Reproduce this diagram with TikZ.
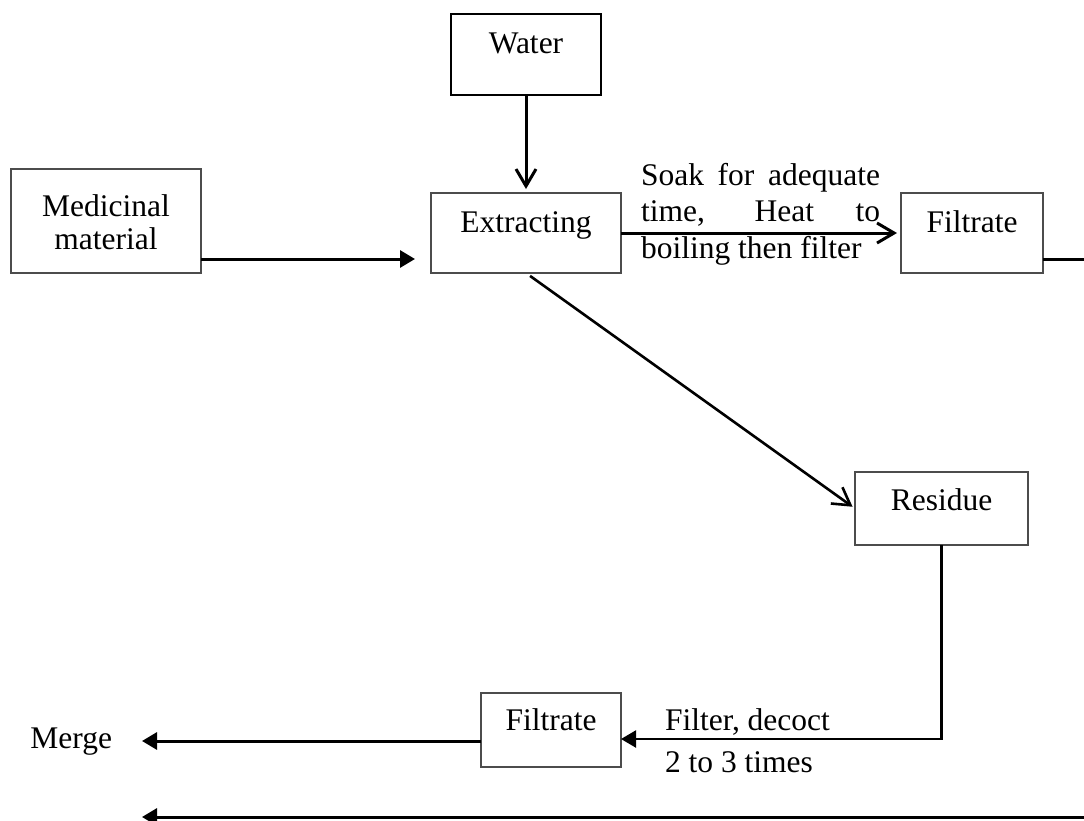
\documentclass[tikz,border=0pt]{standalone}
\usepackage{fontspec}
\setmainfont{Liberation Serif}
\usetikzlibrary{arrows.meta,calc}
\begin{document}
\begin{tikzpicture}[x=0.5pt,y=-0.5pt,
  every node/.style={font=\fontsize{15.75}{18.25}\selectfont},
  box/.style={draw=black!70, line width=0.7pt, inner sep=0pt, outer sep=0pt, anchor=north west, text height=19.5pt, text depth=20.5pt},
  conn/.style={line width=1.5pt},
  openarr/.style={conn, -{Straight Barb[length=8.5pt,width=10pt]}},
  fillarr/.style={conn, -{Triangle[length=7.5pt,width=8.5pt]}},
  txt/.style={inner sep=0pt, outer sep=0pt, anchor=base west}
]
\useasboundingbox (0,0) rectangle (1084,821);

\node[box, draw=black, line width=1pt, minimum width=75pt, text height=19.5pt, text depth=21pt] (water) at (451,14) {Water};
\node[box, minimum width=95pt, text height=23.5pt, text depth=28.5pt] (med) at (11,169)
  {\fontsize{15.75}{16.5}\selectfont\begin{tabular}[t]{@{}c@{}}Medicinal\\material\end{tabular}};
\node[box, minimum width=95pt] (ext) at (431,193) {Extracting};
\node[box, minimum width=71pt] (filt) at (901,193) {Filtrate};
\node[box, minimum width=86.5pt, text height=19pt, text depth=17.5pt] (res) at (855,472) {Residue};
\node[box, minimum width=70pt, text height=18.5pt, text depth=18.5pt] (fb) at (481,693) {Filtrate};
\node[inner sep=0pt, outer sep=0pt, anchor=base east] (merge) at (112,748) {Merge};

\node[txt] (soak) at (641,185) {\begin{tabular}[t]{@{}l@{}}\makebox[119.5pt][s]{Soak for adequate}\\\makebox[119.5pt][s]{time, Heat to}\\boiling then filter\end{tabular}};
\node[txt] (fd) at (665,730) {Filter, decoct};
\node[txt] (times) at (665,772) {2 to 3 times};

\coordinate (m1) at ($(med.south east)+(0,-14)$);
\coordinate (f1) at ($(filt.south east)+(0,-14)$);
\coordinate (fr) at (1084,259);
\coordinate (r1) at ($(fb.east)+(0,9)$);
\coordinate (b1) at ($(fb.west)+(0,11)$);
\coordinate (bR) at (1084,817);
\coordinate (bL) at (142,817);

\draw[openarr, shorten >=2pt] (water) -- (ext);
\draw[fillarr, shorten >=8pt] (m1) -- (m1 -| ext.west);
\draw[openarr, shorten >=2pt] (ext) -- (filt);
\draw[conn] (f1) -- (fr);
\draw[openarr, line width=1.3pt, shorten <=2.5pt, shorten >=1.5pt] (ext.south) -- (res.west);
\draw[fillarr, line width=1.1pt] (res.south) |- (r1);
\draw[fillarr, shorten >=15pt] (b1) -- (b1 -| merge.east);
\draw[fillarr] (bR) -- (bL);
\end{tikzpicture}
\end{document}
